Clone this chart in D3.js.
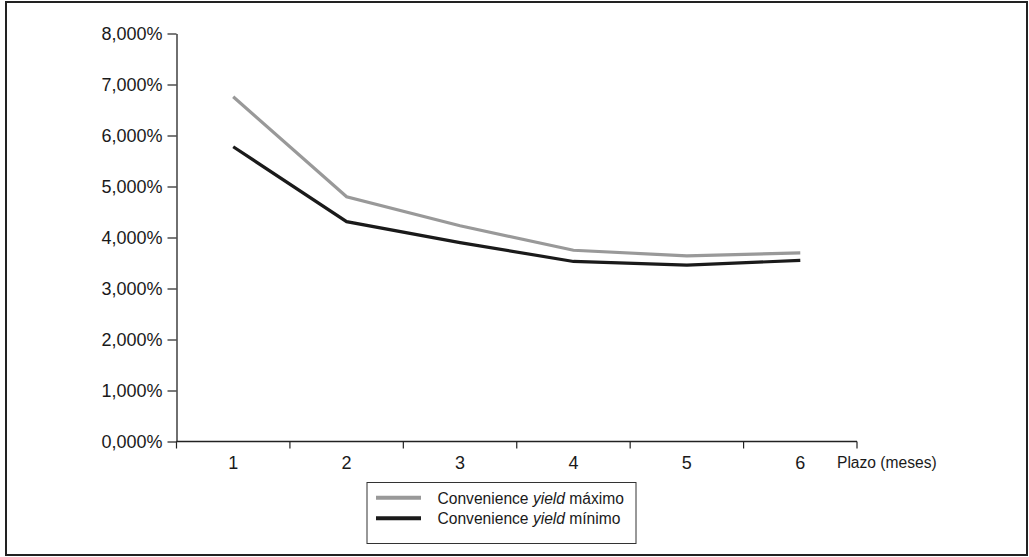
<!DOCTYPE html>
<html>
<head>
<meta charset="utf-8">
<script src="https://cdn.jsdelivr.net/npm/d3@7"></script>
<style>
  html, body { margin: 0; padding: 0; background: #fff; }
  svg { display: block; }
  text { font-family: "Liberation Sans", Arial, Helvetica, sans-serif; fill: #1a1a1a; }
</style>
</head>
<body>
<svg id="chart" width="1029" height="557"></svg>
<script>
const categories = ["1", "2", "3", "4", "5", "6"];
const seriesMax = [6.76, 4.80, 4.23, 3.75, 3.64, 3.70];
const seriesMin = [5.78, 4.31, 3.90, 3.53, 3.46, 3.55];
const yTicks = [0, 1, 2, 3, 4, 5, 6, 7, 8];
const seriesNames = ["máximo", "mínimo"];
const xTitle = "Plazo (meses)";

const svg = d3.select("#chart");

// outer frame
svg.append("rect")
  .attr("x", 6).attr("y", 2).attr("width", 1021).attr("height", 553)
  .attr("fill", "none").attr("stroke", "#222").attr("stroke-width", 2);

const x0 = 176.5, x1 = 857, yTop = 33.5, yBot = 441.5;

const x = d3.scaleBand().domain(categories).range([x0, x1]).padding(0);
const y = d3.scaleLinear().domain([0, 8]).range([yBot, yTop]);

const fmt = v => d3.format(".3f")(v).replace(".", ",") + "%";

// Y axis
const yAxis = svg.append("g").attr("transform", `translate(${x0},0)`)
  .call(d3.axisLeft(y).tickValues(yTicks).tickSize(9).tickSizeOuter(0).tickPadding(5).tickFormat(fmt));
yAxis.select(".domain").attr("stroke", "#222").attr("stroke-width", 1.3);
yAxis.selectAll(".tick line").attr("stroke", "#222").attr("stroke-width", 1.2);
yAxis.selectAll(".tick text").attr("font-size", "18px").attr("fill", "#1a1a1a")
  .attr("font-family", '"Liberation Sans", Arial, sans-serif');

// X axis: ticks at band boundaries
const xAxisG = svg.append("g").attr("transform", `translate(0,${yBot})`);
xAxisG.append("line").attr("x1", x0).attr("x2", x1).attr("y1", 0).attr("y2", 0)
  .attr("stroke", "#222").attr("stroke-width", 1.3);
const boundaries = categories.map(c => x(c)).concat([x1]);
xAxisG.selectAll("line.tk").data(boundaries).enter().append("line")
  .attr("class", "tk")
  .attr("x1", d => d).attr("x2", d => d).attr("y1", 0).attr("y2", 7)
  .attr("stroke", "#222").attr("stroke-width", 1.2);
xAxisG.selectAll("text.lbl").data(categories).enter().append("text")
  .attr("class", "lbl")
  .attr("x", d => x(d) + x.bandwidth() / 2)
  .attr("y", 27)
  .attr("text-anchor", "middle")
  .attr("font-size", "18px")
  .text(d => d);

svg.append("text").attr("x", 837).attr("y", 468)
  .attr("font-size", "15.6px").text(xTitle);

// lines
const line = d3.line()
  .x((d, i) => x(categories[i]) + x.bandwidth() / 2)
  .y(d => y(d));

svg.append("path").datum(seriesMax).attr("d", line)
  .attr("fill", "none").attr("stroke", "#999").attr("stroke-width", 3.2)
  .attr("stroke-linejoin", "miter");
svg.append("path").datum(seriesMin).attr("d", line)
  .attr("fill", "none").attr("stroke", "#1a1a1a").attr("stroke-width", 3.2)
  .attr("stroke-linejoin", "miter");

// legend
const lg = svg.append("g");
lg.append("rect").attr("x", 367).attr("y", 482.5).attr("width", 269).attr("height", 61)
  .attr("fill", "#fff").attr("stroke", "#333").attr("stroke-width", 1);
const legendItems = [
  { name: seriesNames[0], color: "#999", cy: 497.7 },
  { name: seriesNames[1], color: "#1a1a1a", cy: 518.3 }
];
legendItems.forEach(it => {
  lg.append("line").attr("x1", 376).attr("x2", 421).attr("y1", it.cy).attr("y2", it.cy)
    .attr("stroke", it.color).attr("stroke-width", 4);
  const t = lg.append("text").attr("x", 437.5).attr("y", it.cy + 5.8).attr("font-size", "15.6px");
  t.append("tspan").text("Convenience ");
  t.append("tspan").attr("font-style", "italic").text("yield");
  t.append("tspan").text(" " + it.name);
});
</script>
</body>
</html>
